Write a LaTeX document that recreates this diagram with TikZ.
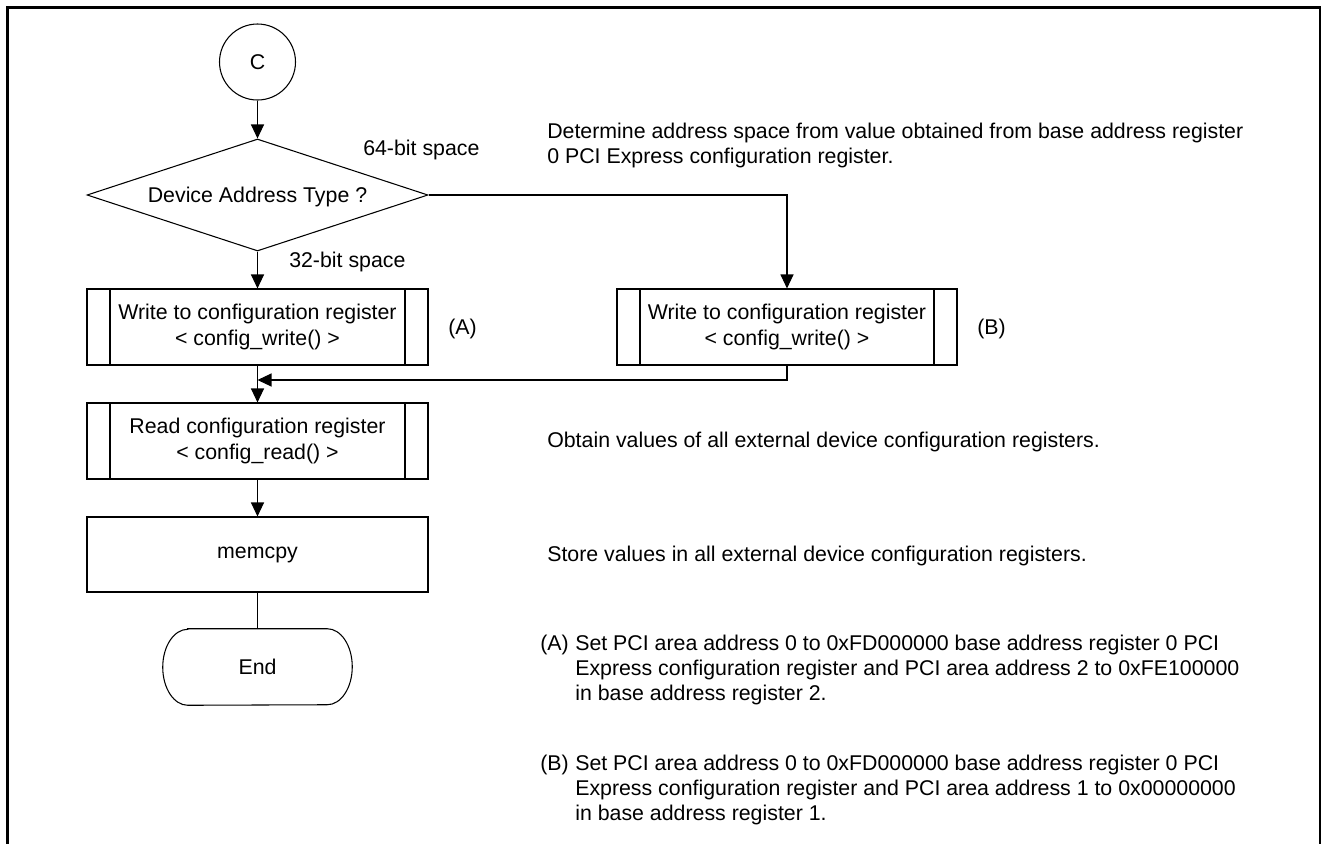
\documentclass[tikz,border=0pt]{standalone}
\usepackage{fontspec}
\setmainfont{Liberation Sans}
\usetikzlibrary{shapes.geometric,arrows.meta}
\newdimen\pxu \pxu=0.75pt
\begin{document}
\begin{tikzpicture}[x=0.75pt,y=-0.75pt,
  every node/.style={font=\fontsize{16}{18.75}\selectfont, inner sep=0pt},
  stroke/.style={draw=black, line width=0.8pt},
  arrowline/.style={stroke, -{Triangle[length=10.5pt,width=9.75pt]}},
  capline/.style={text height=11.46pt, text depth=0pt},
  plainbox/.style={stroke, rectangle, minimum width=341\pxu, minimum height=76\pxu,
    align=center, font=\fontsize{16}{19.5}\selectfont},
  subproc/.style={plainbox, path picture={
    \draw[stroke] ([xshift=23\pxu]path picture bounding box.north west) -- ([xshift=23\pxu]path picture bounding box.south west);
    \draw[stroke] ([xshift=-23\pxu]path picture bounding box.north east) -- ([xshift=-23\pxu]path picture bounding box.south east);}},
  notetext/.style={anchor=base west, align=left},
]
\useasboundingbox (0,0) rectangle (1328,843);

% outer frame, open at the bottom
\draw[line width=2.5\pxu] (7.5,850) -- (7.5,7.5) -- (1320,7.5) -- (1320,850);

% flow nodes
\node[stroke, circle, minimum size=76\pxu, capline] (c) at (257.5,62) {C};
\node[stroke, diamond, aspect=3, minimum width=341\pxu, minimum height=112\pxu, capline] (dec) at (257.5,195) {Device Address Type ?};
\node[subproc] (wA) at (257.5,327) {Write to configuration register\\< config\_write() >};
\node[subproc, minimum width=340\pxu] (wB) at (787,327) {Write to configuration register\\< config\_write() >};
\node[subproc] (rd) at (257.5,441) {Read configuration register\\< config\_read() >};
\node[plainbox, minimum height=75\pxu] (mem) at (257.5,554.5) {memcpy};
\node[minimum width=189\pxu, minimum height=76\pxu, capline] (end) at (257.5,667) {End};
\draw[stroke] ([xshift=25\pxu]end.north west) -- ([xshift=-25\pxu]end.north east)
  arc[start angle=90, end angle=-90, x radius=25\pxu, y radius=38\pxu]
  -- ([xshift=25\pxu]end.south west)
  arc[start angle=270, end angle=90, x radius=25\pxu, y radius=38\pxu] -- cycle;
\coordinate (mrg) at (257.5,380);

% connectors
\draw[arrowline] (c) -- (dec);
\draw[arrowline] (dec) -- (wA);
\draw[arrowline] (dec.east) -| (wB.north);
\draw[arrowline] (wB.south) |- (mrg);
\draw[arrowline] (wA) -- (rd);
\draw[arrowline] (rd) -- (mem);
\draw[stroke] (mem) -- (end);

% branch labels and markers
\node[capline, anchor=west] (l64) at (363,148) {64-bit space};
\node[capline, anchor=west] (l32) at (289,260) {32-bit space};
\node[capline, anchor=west] (tA) at (448,327) {(A)};
\node[capline, anchor=west] (tB) at (977,327) {(B)};

% explanatory notes (base anchor sits on the last line)
\node[notetext] (n1) at (547,163) {Determine address space from value obtained from base address register\\0 PCI Express configuration register.};
\node[capline, anchor=west] (n2) at (547,440) {Obtain values of all external device configuration registers.};
\node[capline, anchor=west] (n3) at (547,554) {Store values in all external device configuration registers.};
\node[notetext] (nA) at (575,700) {Set PCI area address 0 to 0xFD000000 base address register 0 PCI\\Express configuration register and PCI area address 2 to 0xFE100000\\in base address register 2.};
\node[anchor=base east] (nAl) at ([xshift=-6\pxu,yshift=50\pxu]nA.base west) {(A)};
\node[notetext] (nB) at (575,820) {Set PCI area address 0 to 0xFD000000 base address register 0 PCI\\Express configuration register and PCI area address 1 to 0x00000000\\in base address register 1.};
\node[anchor=base east] (nBl) at ([xshift=-6\pxu,yshift=50\pxu]nB.base west) {(B)};
\end{tikzpicture}
\end{document}
